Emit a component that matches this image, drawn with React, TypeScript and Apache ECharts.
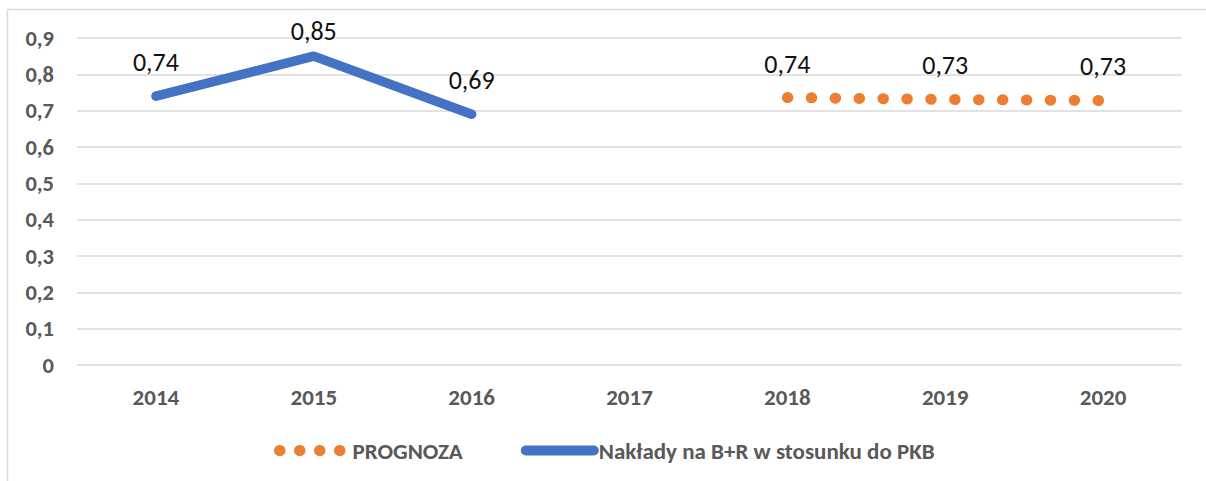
import React, { useEffect, useRef } from "react";
import * as echarts from "echarts";

const categories = ["2014", "2015", "2016", "2017", "2018", "2019", "2020"];
const actualValues = [0.74, 0.85, 0.69, null, null, null, null];
const forecastValues = [null, null, null, null, 0.736, 0.731, 0.728];
const yTicks = { min: 0, max: 0.9, interval: 0.1 };
const actualName = "Nakłady na B+R w stosunku do PKB";
const forecastName = "PROGNOZA";

const FONT = "Carlito, Lato, sans-serif";
const fmt = (v: number) => v.toFixed(2).replace(".", ",");

export default function App() {
  const ref = useRef<HTMLDivElement>(null);
  useEffect(() => {
    const chart = echarts.init(ref.current!, null, { renderer: "svg" });
    // the peak label sits closer to its point in the reference (kept inside the chart top)
    const actualData = actualValues.map((v, i) =>
      i === 1 ? { value: v, label: { distance: 12 } } : v
    );
    chart.setOption({
      animation: false,
      textStyle: { fontFamily: FONT },
      graphic: [
        {
          type: "rect",
          shape: { x: 7.5, y: 9.5, width: 1220, height: 500 },
          style: { fill: "none", stroke: "#d9d9d9", lineWidth: 1.5 },
          silent: true,
        },
      ],
      grid: { left: 77, right: 24, top: 38, bottom: 116, containLabel: false },
      xAxis: {
        type: "category",
        data: categories,
        boundaryGap: true,
        axisLine: { show: false },
        axisTick: { show: false },
        axisLabel: {
          color: "#595959",
          fontWeight: "bold",
          fontSize: 23,
          fontFamily: FONT,
          margin: 20,
        },
      },
      yAxis: {
        type: "value",
        min: yTicks.min,
        max: yTicks.max,
        interval: yTicks.interval,
        axisLine: { show: false },
        axisTick: { show: false },
        splitLine: { lineStyle: { color: "#d9d9d9", width: 1.5 } },
        axisLabel: {
          color: "#595959",
          fontWeight: "bold",
          fontSize: 22.5,
          fontFamily: FONT,
          margin: 23,
          formatter: (v: number) => (v === 0 ? "0" : v.toFixed(1).replace(".", ",")),
        },
      },
      legend: {
        top: 434,
        left: 269,
        itemWidth: 68,
        itemHeight: 14,
        itemGap: 58,
        textStyle: { color: "#595959", fontWeight: "bold", fontSize: 23, fontFamily: FONT },
        data: [
          {
            name: forecastName,
            itemStyle: { opacity: 0 },
            lineStyle: { type: [0.5, 19.5], width: 11, cap: "round" },
          },
          {
            name: actualName,
            itemStyle: { opacity: 0 },
            lineStyle: { width: 10, cap: "round" },
          },
        ],
      },
      series: [
        {
          name: actualName,
          type: "line",
          data: actualData,
          color: "#4472C4",
          symbol: "circle",
          symbolSize: 0.1,
          lineStyle: { color: "#4472C4", width: 9.5, cap: "round", join: "round" },
          label: {
            show: true,
            position: "top",
            distance: 21,
            color: "#111",
            fontSize: 26,
            fontFamily: FONT,
            formatter: (p: any) => fmt(p.value),
          },
        },
        {
          name: forecastName,
          type: "line",
          data: forecastValues,
          color: "#ED7D31",
          symbol: "circle",
          symbolSize: 0.1,
          lineStyle: { color: "#ED7D31", width: 11, type: [0.5, 23.4], cap: "round" },
          label: {
            show: true,
            position: "top",
            distance: 21,
            color: "#111",
            fontSize: 26,
            fontFamily: FONT,
            formatter: (p: any) => fmt(p.value),
          },
        },
      ],
    });
    return () => chart.dispose();
  }, []);
  return (
    <div
      ref={ref}
      style={{ position: "absolute", left: 0, top: 0, width: 1206, height: 481 }}
    />
  );
}
